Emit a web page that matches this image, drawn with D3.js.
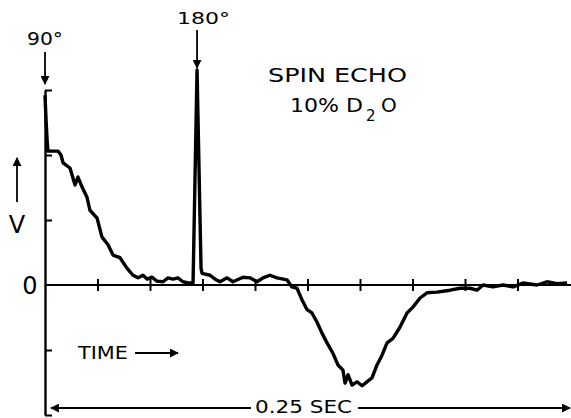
<!DOCTYPE html>
<html>
<head>
<meta charset="utf-8">
<script src="https://cdn.jsdelivr.net/npm/d3@7"></script>
<style>
  body { margin: 0; background: #fff; }
  svg text { font-family: "DejaVu Sans", "Liberation Sans", sans-serif; fill: #000; }
</style>
</head>
<body>
<svg id="chart" width="571" height="418"></svg>
<script>
// time (ms) and signal (vertical divisions)
var timeMs = [0, 0.5, 1.0, 1.4, 6.2, 7.6, 8.6, 11.9, 14.3, 15.7, 17.6, 20.0, 21.4, 24.8, 27.1, 30.0,
  32.4, 35.7, 39.0, 41.9, 44.3, 46.7, 48.6, 51.0, 53.3, 56.2, 58.6, 61.0, 63.3, 65.7, 68.6, 70.5,
  72.4, 74.3, 74.8, 78.6, 81.0, 83.3, 86.7, 89.5, 94.3, 97.6, 101.0, 103.8, 107.1, 110.5, 115.2,
  117.6, 120.0, 122.4, 124.8, 127.1, 129.5, 131.9, 134.3, 137.1, 139.5, 141.9, 142.9, 144.3, 146.2,
  148.6, 151.0, 153.3, 155.7, 158.1, 160.5, 162.9, 165.7, 169.0, 172.4, 175.2, 178.6, 181.9, 186.7,
  192.9, 197.6, 202.4, 205.7, 208.6, 213.3, 218.1, 222.9, 227.6, 234.3, 239.0, 243.8, 248.6];
var signal = [2.92, 2.54, 2.23, 2.06, 2.06, 2.0, 1.88, 1.80, 1.54, 1.66, 1.51, 1.35, 1.15, 1.03, 0.74, 0.62,
  0.46, 0.42, 0.26, 0.15, 0.11, 0.15, 0.09, 0.12, 0.06, 0.05, 0.11, 0.09, 0.11, 0.05, 0.03, 0.03,
  3.31, 0.26, 0.18, 0.15, 0.09, 0.05, 0.11, 0.05, 0.12, 0.11, 0.05, 0.11, 0.15, 0.11, 0.08,
  -0.03, -0.05, -0.23, -0.38, -0.43, -0.57, -0.74, -0.89, -1.05, -1.23, -1.31, -1.51, -1.38, -1.54,
  -1.49, -1.55, -1.49, -1.43, -1.23, -1.08, -0.89, -0.82, -0.65, -0.43, -0.34, -0.20, -0.12, -0.11,
  -0.08, -0.05, -0.05, -0.08, 0.0, -0.03, 0.0, -0.03, 0.03, 0.0, 0.05, 0.02, 0.03];

var xTicks = [25, 50, 75, 100, 125, 150, 175, 200, 225];
var yTicks = [-2, -1, 1, 2, 3];
var pulseTimes = [0, 72.4];
var pulseLabels = ["90°", "180°"];
var titleLines = ["SPIN ECHO", "10% D", "2", "O"];

var svg = d3.select("#chart");

var x = d3.scaleLinear().domain([0, 250]).range([45, 570]);
var y = d3.scaleLinear().domain([-2, 3]).range([415, 90]);

// arrowhead
svg.append("defs").append("marker")
    .attr("id", "head")
    .attr("viewBox", "0 0 10 10")
    .attr("refX", 9).attr("refY", 5)
    .attr("markerWidth", 5).attr("markerHeight", 5)
    .attr("markerUnits", "strokeWidth")
    .attr("orient", "auto")
    .append("path")
    .attr("d", "M0,0 L10,5 L0,10 z")
    .attr("fill", "#000");

// vertical axis, ticks pointing inward
var yAxis = svg.append("g")
    .attr("transform", "translate(" + x(0) + ",0)")
    .call(d3.axisRight(y).tickValues(yTicks).tickSize(7).tickSizeOuter(0).tickFormat(""));
yAxis.select(".domain").attr("stroke-width", 2.4);
yAxis.selectAll(".tick line").attr("stroke-width", 2);

// zero line with ticks crossing it
var xAxis = svg.append("g")
    .attr("transform", "translate(0," + y(0) + ")")
    .call(d3.axisBottom(x).tickValues(xTicks).tickSize(6).tickSizeOuter(0).tickFormat(""));
xAxis.select(".domain").attr("d", "M" + x(0) + ",0H571").attr("stroke-width", 2);
xAxis.selectAll(".tick line").attr("y1", -6).attr("y2", 6).attr("stroke-width", 2);

// trace
var line = d3.line()
    .x(function(d, i) { return x(timeMs[i]); })
    .y(function(d) { return y(d); });

svg.append("path")
    .datum(signal)
    .attr("d", line)
    .attr("fill", "none")
    .attr("stroke", "#000")
    .attr("stroke-width", 3.4)
    .attr("stroke-linejoin", "round");

// pulse markers
pulseTimes.forEach(function(t, i) {
    var top = i == 0 ? 52 : 30;
    var bottom = i == 0 ? 84 : 68;
    svg.append("line")
        .attr("x1", x(t)).attr("x2", x(t))
        .attr("y1", top).attr("y2", bottom)
        .attr("stroke", "#000").attr("stroke-width", 1.8)
        .attr("marker-end", "url(#head)");
    svg.append("text")
        .attr("x", i == 0 ? 27 : 177)
        .attr("y", i == 0 ? 45 : 24)
        .attr("font-size", i == 0 ? 18 : 16)
        .attr("textLength", i == 0 ? 36 : 53)
        .attr("lengthAdjust", "spacingAndGlyphs")
        .text(pulseLabels[i]);
});

// title
svg.append("text").attr("x", 268).attr("y", 82).attr("font-size", 20)
    .attr("textLength", 139).attr("lengthAdjust", "spacingAndGlyphs").text(titleLines[0]);
svg.append("text").attr("x", 290).attr("y", 112).attr("font-size", 20)
    .attr("textLength", 73).attr("lengthAdjust", "spacingAndGlyphs").text(titleLines[1]);
svg.append("text").attr("x", 366).attr("y", 121).attr("font-size", 15).text(titleLines[2]);
svg.append("text").attr("x", 381).attr("y", 112).attr("font-size", 20).text(titleLines[3]);

// V label and up arrow
svg.append("line")
    .attr("x1", 17).attr("x2", 17).attr("y1", 202).attr("y2", 158)
    .attr("stroke", "#000").attr("stroke-width", 1.8)
    .attr("marker-end", "url(#head)");
svg.append("text").attr("x", 17).attr("y", 233).attr("font-size", 24)
    .attr("text-anchor", "middle").text("V");
svg.append("text").attr("x", 30).attr("y", 294).attr("font-size", 24)
    .attr("text-anchor", "middle").text("0");

// time label
svg.append("text").attr("x", 78).attr("y", 359).attr("font-size", 17)
    .attr("textLength", 50).attr("lengthAdjust", "spacingAndGlyphs").text("TIME");
svg.append("line")
    .attr("x1", 135).attr("x2", 178).attr("y1", 353).attr("y2", 353)
    .attr("stroke", "#000").attr("stroke-width", 1.8)
    .attr("marker-end", "url(#head)");

// 0.25 sec span
svg.append("line")
    .attr("x1", 251).attr("x2", x(0) + 6).attr("y1", 408).attr("y2", 408)
    .attr("stroke", "#000").attr("stroke-width", 1.8)
    .attr("marker-end", "url(#head)");
svg.append("line")
    .attr("x1", 358).attr("x2", x(250)).attr("y1", 408).attr("y2", 408)
    .attr("stroke", "#000").attr("stroke-width", 1.8)
    .attr("marker-end", "url(#head)");
svg.append("text").attr("x", 255).attr("y", 413).attr("font-size", 18)
    .attr("textLength", 97).attr("lengthAdjust", "spacingAndGlyphs").text("0.25 SEC");
</script>
</body>
</html>
